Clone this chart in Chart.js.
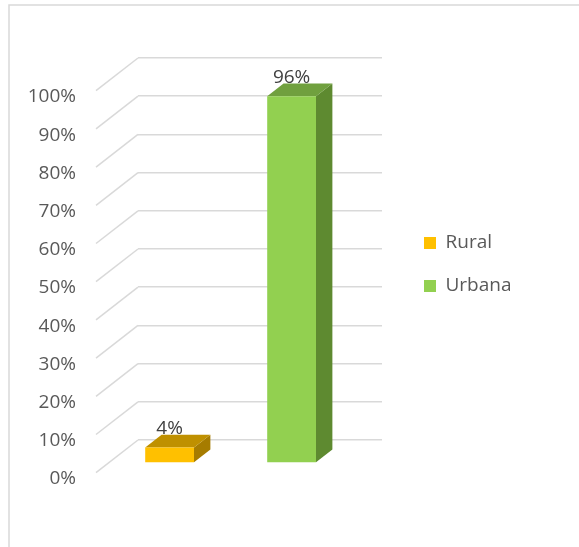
<!DOCTYPE html>
<html>
<head>
<meta charset="utf-8">
<script src="https://cdn.jsdelivr.net/npm/chart.js@4.4.1/dist/chart.umd.min.js"></script>
<style>
  html, body { margin: 0; padding: 0; background: #fff; }
  #wrap { width: 579px; height: 547px; }
</style>
</head>
<body>
<div id="wrap"><canvas id="areaChart" width="579" height="547"></canvas></div>
<script>
const categories = ['Rural', 'Urbana'];
const values     = [4, 96];
const yTicks     = [0, 10, 20, 30, 40, 50, 60, 70, 80, 90, 100];

const frontColors = ['#ffc000', '#92d050'];
const topColors   = ['#bf9000', '#70a03e'];
const sideColors  = ['#a67c00', '#5e8a30'];

const FONT = "'Open Sans', sans-serif";
const GRID = '#d9d9d9';
const TEXT = '#595959';

// offset from the back wall to the front edge of the floor
const depth    = { dx: 42, dy: 32.7 };
const barShift = 0.7;   // how far forward the bar front sits
const barDepth = 0.39;  // bar thickness, as part of the depth

function poly(ctx, pts, color) {
  ctx.beginPath();
  ctx.moveTo(pts[0][0], pts[0][1]);
  for (let i = 1; i < pts.length; i++) ctx.lineTo(pts[i][0], pts[i][1]);
  ctx.closePath();
  ctx.fillStyle = color;
  ctx.fill();
}

const walls3d = {
  id: 'walls3d',
  beforeDraw(chart) {
    const ctx = chart.ctx;
    ctx.save();
    ctx.fillStyle = '#fff';
    ctx.fillRect(0, 0, chart.width, chart.height);
    ctx.strokeStyle = GRID;
    ctx.lineWidth = 1.5;
    ctx.strokeRect(9, 5, chart.width + 20, chart.height + 20);
    ctx.restore();
  },
  beforeDatasetsDraw(chart) {
    // slanted side-wall lines, one per tick
    const ctx = chart.ctx;
    const ys = chart.scales.y;
    const left = chart.chartArea.left;
    ctx.save();
    ctx.strokeStyle = GRID;
    ctx.lineWidth = 1.5;
    ys.ticks.forEach(t => {
      const py = ys.getPixelForValue(t.value);
      ctx.beginPath();
      ctx.moveTo(left - depth.dx, py + depth.dy);
      ctx.lineTo(left, py);
      ctx.stroke();
    });
    ctx.restore();
  },
  afterDatasetsDraw(chart) {
    const ctx = chart.ctx;
    const meta = chart.getDatasetMeta(0);
    const sx = depth.dx * barShift, sy = depth.dy * barShift;
    const bx = depth.dx * barDepth, by = depth.dy * barDepth;
    ctx.save();
    meta.data.forEach((bar, i) => {
      const { x, y, base, width } = bar.getProps(['x', 'y', 'base', 'width'], true);
      const x0 = x - width / 2 - sx, x1 = x0 + width;
      const y0 = y + sy, y1 = base + sy;
      poly(ctx, [[x1, y0], [x1 + bx, y0 - by], [x1 + bx, y1 - by], [x1, y1]], sideColors[i]);
      poly(ctx, [[x0, y0], [x1, y0], [x1 + bx, y0 - by], [x0 + bx, y0 - by]], topColors[i]);
      poly(ctx, [[x0, y0], [x1, y0], [x1, y1], [x0, y1]], frontColors[i]);
    });
    // data labels
    ctx.font = '19px ' + FONT;
    ctx.fillStyle = '#404040';
    ctx.textAlign = 'center';
    ctx.textBaseline = 'middle';
    meta.data.forEach((bar, i) => {
      const { x, y } = bar.getProps(['x', 'y'], true);
      ctx.fillText(values[i] + '%', x - sx, y + sy - 19);
    });
    ctx.restore();
  }
};

new Chart(document.getElementById('areaChart'), {
  type: 'bar',
  data: {
    labels: categories,
    datasets: [{
      data: values,
      backgroundColor: 'rgba(0,0,0,0)',
      borderWidth: 0,
      categoryPercentage: 1,
      barPercentage: 0.4
    }]
  },
  options: {
    responsive: false,
    animation: false,
    layout: { padding: { left: 0, top: 58, right: 69, bottom: 76 } },
    plugins: {
      tooltip: { enabled: false },
      legend: {
        position: 'right',
        maxWidth: 110,
        labels: {
          boxWidth: 12,
          boxHeight: 12,
          padding: 24,
          color: TEXT,
          font: { family: FONT, size: 19 },
          generateLabels: (chart) => chart.data.labels.map((l, i) => ({
            text: l,
            fillStyle: frontColors[i],
            strokeStyle: frontColors[i],
            fontColor: TEXT,
            lineWidth: 0,
            index: i
          }))
        }
      }
    },
    scales: {
      x: {
        grid: { display: false },
        border: { display: false },
        ticks: { display: false },
        afterFit: s => { s.height = 31; }
      },
      y: {
        min: 0,
        max: 100,
        afterBuildTicks: s => { s.ticks = yTicks.map(v => ({ value: v })); },
        grid: { color: GRID, lineWidth: 1.5, drawTicks: false },
        border: { display: false },
        ticks: {
          padding: 62,
          labelOffset: 39,
          color: TEXT,
          font: { family: FONT, size: 19 },
          callback: v => v + '%'
        },
        afterFit: s => { s.width = 138; s.paddingTop = 0; s.paddingBottom = 0; }
      },
      y2: {
        type: 'linear',
        position: 'right',
        grid: { display: false },
        border: { display: false },
        ticks: { display: false },
        afterFit: s => { s.width = 18; s.paddingTop = 0; s.paddingBottom = 0; }
      }
    }
  },
  plugins: [walls3d]
});
</script>
</body>
</html>
